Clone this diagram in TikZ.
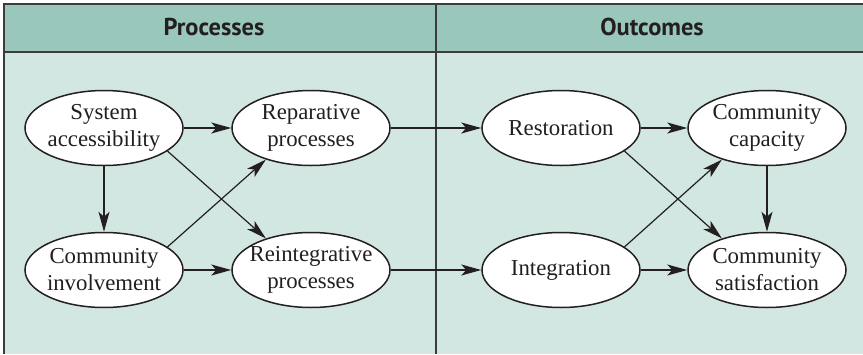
\documentclass[tikz,border=0pt]{standalone}
\usepackage{fontspec}
\setmainfont{Liberation Serif}
\newfontfamily\headfont{PT Sans}
\usepackage{tikz}
\usetikzlibrary{shapes.geometric,arrows.meta}

\definecolor{headgreen}{HTML}{99C7BC}
\definecolor{bodygreen}{HTML}{D2E7E1}
\definecolor{framegray}{HTML}{3C3C3C}
\definecolor{inkblack}{HTML}{231F20}

\begin{document}
\begin{tikzpicture}[x=0.5pt, y=-0.5pt,
  stage/.style={ellipse, draw=inkblack, line width=0.75pt, fill=white,
    minimum width=79pt, minimum height=37.5pt, inner xsep=-8pt, inner ysep=0pt,
    align=center, text=inkblack, font=\fontsize{11.4}{13.5}\selectfont},
  link/.style={-{Stealth[length=10pt,width=5.5pt,inset=2.5pt]}, line width=0.6pt, draw=inkblack},
  colhead/.style={text=inkblack, font=\headfont\bfseries\fontsize{12.2}{14}\selectfont}]
  \useasboundingbox (0,0) rectangle (863,354);

  % panels
  \fill[bodygreen] (4,4) rectangle (863,354);
  \fill[headgreen] (4,4) rectangle (863,52);
  \draw[framegray, line width=1pt] (4,354) -- (4,4) -- (863,4);
  \draw[framegray, line width=1pt] (4,52) -- (863,52);
  \draw[framegray, line width=1pt] (436,4) -- (436,354);

  \node[colhead] (proc) at (214,27) {Processes};
  \node[colhead] (outc) at (652,27) {Outcomes};

  % processes
  \node[stage] (access) at (104,128) {System\\accessibility};
  \node[stage] (repar)  at (311,128) {Reparative\\processes};
  \node[stage] (invol)  at (104,270) {Community\\involvement};
  \node[stage] (reint)  at (311,270) {Reintegrative\\processes};

  % outcomes
  \node[stage] (restor) at (561,128) {Restoration};
  \node[stage] (capac)  at (767,128) {Community\\capacity};
  \node[stage] (integr) at (561,270) {Integration};
  \node[stage] (satis)  at (767,270) {Community\\satisfaction};

  % connectors
  \draw[link] (access) -- (repar);
  \draw[link] (access) -- (invol);
  \draw[link] (access.-20) -- (reint.145);
  \draw[link] (invol.20) -- (repar.-145);
  \draw[link] (invol) -- (reint);
  \draw[link] (repar) -- (restor);
  \draw[link] (reint) -- (integr);
  \draw[link] (restor) -- (capac);
  \draw[link] (restor.-20) -- (satis.145);
  \draw[link] (integr.20) -- (capac.-145);
  \draw[link] (integr) -- (satis);
  \draw[link] (capac) -- (satis);
\end{tikzpicture}
\end{document}
